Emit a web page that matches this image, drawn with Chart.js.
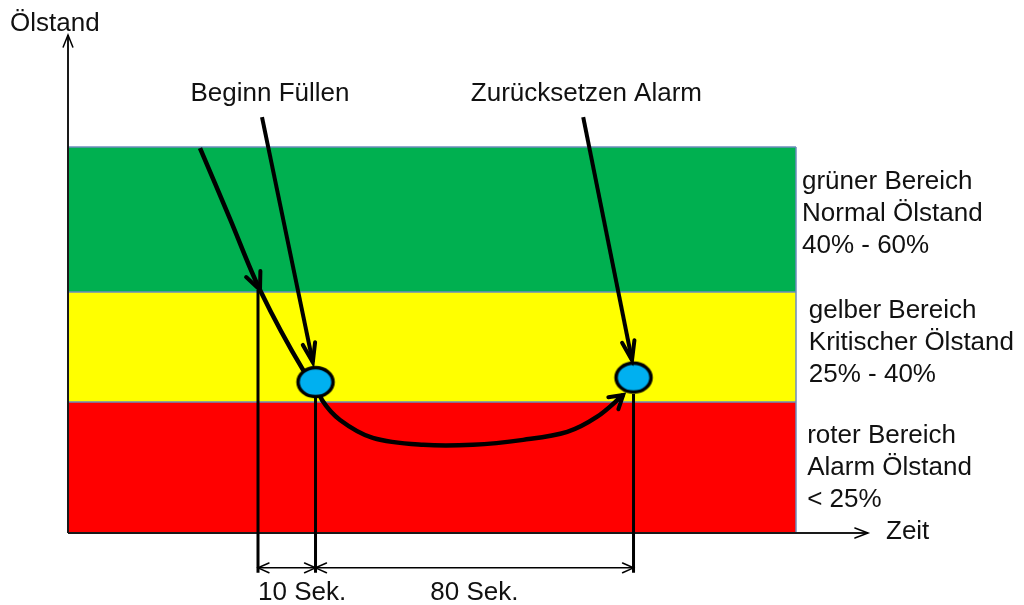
<!DOCTYPE html>
<html>
<head>
<meta charset="utf-8">
<script src="https://cdn.jsdelivr.net/npm/chart.js@4/dist/chart.umd.min.js"></script>
<style>
    html, body { margin: 0; padding: 0; background: #fff; }
    #wrap { width: 1024px; height: 605px; position: relative; }
</style>
</head>
<body>
<div id="wrap"><canvas id="chart"></canvas></div>
<script>
// Level bands (arbitrary level units, 0..100 on the y scale)
const bandEdges = [0, 26.3, 48.4, 77.5];
const bandEnd = 91;
const bandColors = ["#ff0000", "#ffff00", "#00b050"];
const bandNames = [
    ["roter Bereich", "Alarm Ölstand", "< 25%"],
    ["gelber Bereich", "Kritischer Ölstand", "25% - 40%"],
    ["grüner Bereich", "Normal Ölstand", "40% - 60%"]
];
const bandLabelX = [92.4, 92.6, 91.75];
const bandLabelY = [18.1, 43.2, 69.1];

// Oil level curve (time units 0..100 on the x scale)
const curveX = [16.5, 20.25, 24, 29.4, 30.9, 31.75, 34, 38.1, 44.4, 50.6, 56.9, 62.4, 66.1, 69.4];
const curveY = [77.3, 63.1, 48.8, 32.7, 30.3, 26.7, 22.7, 19.1, 17.7, 17.7, 18.7, 20.3, 23.3, 27.7];
const curveArrowAt = 2;

// Events: start filling / alarm reset
const markerX = [30.94, 70.69];
const markerY = [30.3, 31.2];

// Time marks and intervals
const eventX = [23.75, 30.94, 70.69];
const eventTop = [48.8, 27.1, 27.9];
const eventBottom = -8;
const dimY = -7;
const intervals = [[0, 1], [1, 2]];
const intervalLabels = ["10 Sek.", "80 Sek."];
const intervalLabelX = [23.75, 50.8];
const intervalLabelAlign = ["left", "center"];
const intervalLabelY = -13.5;

// Pointer arrows with captions
const pointerLabels = ["Beginn Füllen", "Zurücksetzen Alarm"];
const pointerLabelX = [25.25, 64.8];
const pointerLabelY = 86.7;
const pointerFrom = [[24.25, 83.5], [64.4, 83.5]];
const pointerTo = [[30.6, 34.3], [70.5, 34.7]];

const axisTitleY = "Ölstand";
const axisTitleX = "Zeit";

const FONT = '26px "Liberation Sans", Arial, sans-serif';
const TEXT = "#111";

function seg(points, color, width, order) {
    return {
        data: points,
        borderColor: color,
        borderWidth: width,
        pointRadius: 0,
        fill: false,
        tension: 0,
        clip: false,
        order: order
    };
}

// ellipse marker drawn once, used as point style
function makeMarker() {
    const c = document.createElement("canvas");
    c.width = 42;
    c.height = 36;
    const g = c.getContext("2d");
    g.beginPath();
    g.ellipse(21, 18, 17.5, 14.5, 0, 0, Math.PI * 2);
    g.fillStyle = "#00b0f0";
    g.fill();
    g.lineWidth = 3.5;
    g.strokeStyle = "#000";
    g.stroke();
    return c;
}

const datasets = [];

// bands: each edge is a line, filled down to the previous edge
bandEdges.forEach((e, i) => {
    const ds = seg([{ x: 0, y: e }, { x: bandEnd, y: e }], "#6d8cbc", 1.5, 20);
    if (i > 0) {
        ds.fill = "-1";
        ds.backgroundColor = bandColors[i - 1];
    }
    datasets.push(ds);
});
datasets.push(seg([{ x: bandEnd, y: 0 }, { x: bandEnd, y: bandEdges[3] }], "#6d8cbc", 1.5, 19));

// axes
datasets.push(seg([{ x: 0, y: 0 }, { x: 0, y: 100 }], "#1a1a1a", 2, 5));
datasets.push(seg([{ x: 0, y: 0 }, { x: 100, y: 0 }], "#1a1a1a", 2.2, 5));

// event verticals
eventX.forEach((x, i) => {
    datasets.push(seg([{ x: x, y: eventTop[i] }, { x: x, y: eventBottom }], "#000", 3, 4));
});

// dimension lines
intervals.forEach(([a, b]) => {
    datasets.push(seg([{ x: eventX[a], y: dimY }, { x: eventX[b], y: dimY }], "#000", 1.5, 4));
});

// pointer arrows
pointerFrom.forEach((p, i) => {
    datasets.push(seg([{ x: p[0], y: p[1] }, { x: pointerTo[i][0], y: pointerTo[i][1] }], "#000", 4, 3));
});

// level curve
datasets.push({
    data: curveX.map((x, i) => ({ x: x, y: curveY[i] })),
    borderColor: "#000",
    borderWidth: 4.5,
    pointRadius: 0,
    fill: false,
    tension: 0.35,
    clip: false,
    order: 2
});

// event markers
datasets.push({
    data: markerX.map((x, i) => ({ x: x, y: markerY[i] })),
    showLine: false,
    pointStyle: makeMarker(),
    pointRadius: 18,
    clip: false,
    order: 0
});

function arrowHead(ctx, tip, from, len, ang, width) {
    const a = Math.atan2(tip[1] - from[1], tip[0] - from[0]);
    ctx.save();
    ctx.beginPath();
    ctx.moveTo(tip[0] - len * Math.cos(a - ang), tip[1] - len * Math.sin(a - ang));
    ctx.lineTo(tip[0], tip[1]);
    ctx.lineTo(tip[0] - len * Math.cos(a + ang), tip[1] - len * Math.sin(a + ang));
    ctx.lineWidth = width;
    ctx.strokeStyle = "#000";
    ctx.lineCap = "round";
    ctx.lineJoin = "miter";
    ctx.stroke();
    ctx.restore();
}

const decorations = {
    id: "decorations",
    afterDatasetsDraw(chart) {
        const ctx = chart.ctx;
        const sx = chart.scales.x;
        const sy = chart.scales.y;
        const px = (x, y) => [sx.getPixelForValue(x), sy.getPixelForValue(y)];

        // axis arrows
        arrowHead(ctx, px(0, 100), px(0, 0), 13, 0.38, 1.5);
        arrowHead(ctx, px(100, 0), px(0, 0), 14, 0.36, 1.5);

        // curve arrows
        const k = curveArrowAt;
        arrowHead(ctx, px(curveX[k], curveY[k]), px(curveX[0], curveY[0]), 19, 0.42, 4);
        const n = curveX.length;
        arrowHead(ctx, px(curveX[n - 1], curveY[n - 1]), px(curveX[n - 2], curveY[n - 2]), 15, 0.55, 4);

        // pointer arrows
        pointerFrom.forEach((p, i) => {
            arrowHead(ctx, px(pointerTo[i][0], pointerTo[i][1]), px(p[0], p[1]), 20, 0.32, 4);
        });

        // dimension arrows
        intervals.forEach(([a, b]) => {
            const l = px(eventX[a], dimY);
            const r = px(eventX[b], dimY);
            arrowHead(ctx, l, r, 12, 0.42, 1.5);
            arrowHead(ctx, r, l, 12, 0.42, 1.5);
        });

        // texts
        ctx.save();
        ctx.font = FONT;
        ctx.fillStyle = TEXT;
        ctx.textBaseline = "alphabetic";

        ctx.textAlign = "left";
        let p = px(-7.25, 100.8);
        ctx.fillText(axisTitleY, p[0], p[1]);
        p = px(102.25, -1.2);
        ctx.fillText(axisTitleX, p[0], p[1]);

        ctx.textAlign = "center";
        pointerLabels.forEach((t, i) => {
            const q = px(pointerLabelX[i], pointerLabelY);
            ctx.fillText(t, q[0], q[1]);
        });

        intervalLabels.forEach((t, i) => {
            ctx.textAlign = intervalLabelAlign[i];
            const q = px(intervalLabelX[i], intervalLabelY);
            ctx.fillText(t, q[0], q[1]);
        });

        ctx.textAlign = "left";
        bandNames.forEach((lines, i) => {
            const q = px(bandLabelX[i], bandLabelY[i]);
            lines.forEach((t, j) => ctx.fillText(t, q[0], q[1] + j * 32));
        });
        ctx.restore();
    }
};

new Chart(document.getElementById("chart"), {
    type: "line",
    data: { datasets: datasets },
    options: {
        responsive: true,
        maintainAspectRatio: false,
        animation: false,
        events: [],
        layout: { padding: { left: 68, right: 156, top: 35, bottom: 72 } },
        plugins: {
            legend: { display: false },
            tooltip: { enabled: false },
            filler: { propagate: false }
        },
        scales: {
            x: { type: "linear", min: 0, max: 100, display: false },
            y: { type: "linear", min: 0, max: 100, display: false }
        }
    },
    plugins: [decorations]
});
</script>
</body>
</html>
